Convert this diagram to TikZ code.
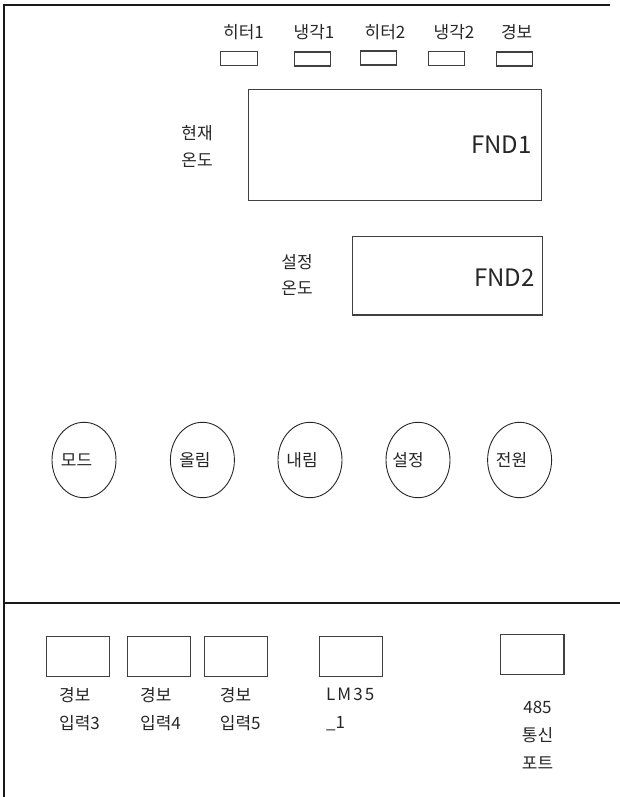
\documentclass[tikz,border=0pt]{standalone}
\usepackage{fontspec}
\setmainfont{Noto Sans CJK KR}
\newfontfamily\spacedfont[LetterSpace=12]{Noto Sans CJK KR}
\usetikzlibrary{shapes.geometric}
\tikzset{
  frameline/.style={draw=black!90, line width=1.6pt},
  boxline/.style={draw=black!75, line width=1.1pt, inner sep=0pt, rectangle},
  ledbox/.style={boxline, minimum width=36.3pt, minimum height=14pt},
  portbox/.style={boxline, minimum width=63.3pt, minimum height=40pt},
  btn/.style={draw=black!85, line width=0.9pt, ellipse, inner sep=0pt, minimum width=64pt, minimum height=75.4pt},
  lbl/.style={inner sep=0pt, text=black!85, font=\fontsize{17}{27}\selectfont},
  btntxt/.style={inner sep=0pt, text=black!85, font=\fontsize{17}{20}\selectfont},
  fndtxt/.style={inner sep=0pt, text=black!85, font=\fontsize{24}{26}\selectfont, anchor=east},
  botlbl/.style={inner sep=0pt, text=black!85, font=\fontsize{17}{28}\selectfont, align=left, anchor=west},
}
\begin{document}
\begin{tikzpicture}[x=1pt,y=-1pt]
\useasboundingbox (0,0) rectangle (620,797);
% frame
\coordinate (tl) at (4,5);
\coordinate (tr) at (610,5);
\coordinate (bl) at (4,797);
\coordinate (ml) at (4,603);
\coordinate (mr) at (620,603);
\draw[frameline] (tr) -- (tl) -- (bl);
\draw[frameline] (ml) -- (mr);

% LED labels
\node[lbl] (l1) at (243.5,32) {히터1};
\node[lbl] (l2) at (314,32) {냉각1};
\node[lbl] (l3) at (385,32) {히터2};
\node[lbl] (l4) at (454,32) {냉각2};
\node[lbl] (l5) at (516.7,32) {경보};
% LED boxes
\node[ledbox] (led1) at (238.9,58.7) {};
\node[ledbox] (led2) at (312.2,59) {};
\node[ledbox] (led3) at (378.7,58) {};
\node[ledbox] (led4) at (446.3,58.5) {};
\node[ledbox] (led5) at (514.3,59) {};

% FND1
\node[boxline, minimum width=293.4pt, minimum height=111.4pt] (fnd1) at (395,145) {};
\node[fndtxt] (fnd1t) at (532,145) {FND1};
\node[lbl, align=center] (curlbl) at (197,146.5) {현재\\온도};

% FND2
\node[boxline, minimum width=190.4pt, minimum height=78.3pt] (fnd2) at (447.5,275.8) {};
\node[fndtxt] (fnd2t) at (535,278) {FND2};
\node[lbl, align=center, font=\fontsize{17}{26}\selectfont] (setlbl) at (297,275) {설정\\온도};

% buttons
\node[btn] (b1) at (84,460) {};
\node[btn] (b2) at (202.4,460) {};
\node[btn] (b3) at (310,460) {};
\node[btn] (b4) at (418,460) {};
\node[btn] (b5) at (519.6,460) {};
\node[btntxt] (b1t) at ([xshift=-7.5pt]b1.center) {모드};
\node[btntxt] (b2t) at ([xshift=-7.5pt]b2.center) {올림};
\node[btntxt] (b3t) at ([xshift=-8pt]b3.center) {내림};
\node[btntxt] (b4t) at ([xshift=-10pt]b4.center) {설정};
\node[btntxt] (b5t) at ([xshift=-8pt]b5.center) {전원};

% bottom ports
\node[portbox] (p1) at (77.7,656.7) {};
\node[portbox] (p2) at (159,656.7) {};
\node[portbox] (p3) at (236,656.7) {};
\node[portbox] (p4) at (351,656.7) {};
\node[portbox] (p5) at (532.3,654.3) {};
\node[botlbl] (p1t) at (59,709) {경보\\입력3};
\node[botlbl] (p2t) at (140,709) {경보\\입력4};
\node[botlbl] (p3t) at (219.7,709) {경보\\입력5};
\node[botlbl] (p4t) at (326,709) {{\spacedfont LM35}\\\_1};
\node[lbl, align=center, font=\fontsize{17}{28}\selectfont] (p5t) at (537.5,735.5) {485\\통신\\포트};
\end{tikzpicture}
\end{document}
